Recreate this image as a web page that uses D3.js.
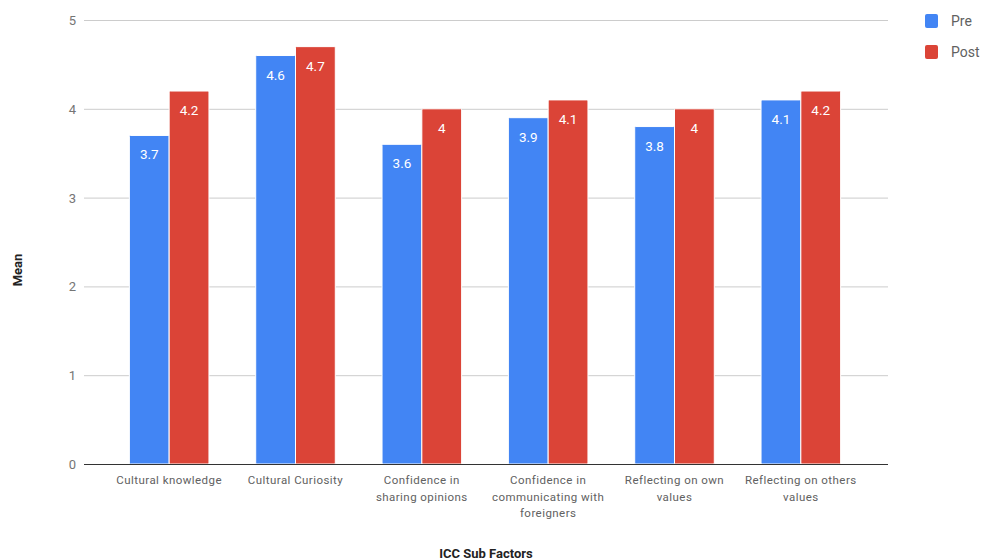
<!DOCTYPE html>
<html>
<head>
<meta charset="utf-8">
<script src="https://cdnjs.cloudflare.com/ajax/libs/d3/7.8.5/d3.min.js"></script>
<style>
  body { margin: 0; background: #fff; }
  svg { font-family: Roboto, Arial, sans-serif; }
</style>
</head>
<body>
<svg width="983" height="559"></svg>
<script>
var categories = [
  ["Cultural knowledge"],
  ["Cultural Curiosity"],
  ["Confidence in", "sharing opinions"],
  ["Confidence in", "communicating with", "foreigners"],
  ["Reflecting on own", "values"],
  ["Reflecting on others", "values"]
];
var series = ["Pre", "Post"];
var preValues = [3.7, 4.6, 3.6, 3.9, 3.8, 4.1];
var postValues = [4.2, 4.7, 4.0, 4.1, 4.0, 4.2];
var yTicks = [0, 1, 2, 3, 4, 5];
var colors = ["#4285f4", "#db4437"];

var svg = d3.select("svg");
// note: "top" is taken by window.top, so use other names
var plotLeft = 84, plotRight = 888, plotTop = 20, plotBottom = 464;

var x = d3.scaleBand()
    .domain(d3.range(categories.length))
    .range([106, 864])
    .paddingInner(0.37)
    .paddingOuter(0.185);
var xs = d3.scaleBand().domain([0, 1]).range([0, x.bandwidth()]);
var y = d3.scaleLinear().domain([0, 5]).range([plotBottom, plotTop]);

// gridlines
svg.append("g").selectAll("line")
    .data(yTicks.filter(function(d) { return d > 0; }))
    .enter().append("line")
    .attr("x1", plotLeft).attr("x2", plotRight)
    .attr("y1", function(d) { return y(d) + 0.5; })
    .attr("y2", function(d) { return y(d) + 0.5; })
    .attr("stroke", "#ccc").attr("stroke-width", 1);

svg.append("g").selectAll("text")
    .data(yTicks)
    .enter().append("text")
    .attr("x", 76).attr("y", function(d) { return y(d) + 5; })
    .attr("text-anchor", "end")
    .attr("fill", "#757575").attr("font-size", 13)
    .text(function(d) { return d; });

var rows = categories.map(function(c, i) {
  return [preValues[i], postValues[i]];
});

var groups = svg.append("g").selectAll("g")
    .data(rows)
    .enter().append("g")
    .attr("transform", function(d, i) { return "translate(" + x(i) + ",0)"; });

groups.selectAll("rect")
    .data(function(d) { return d; })
    .enter().append("rect")
    .attr("x", function(d, j) { return xs(j); })
    .attr("y", function(d) { return y(d); })
    .attr("width", xs.bandwidth())
    .attr("height", function(d) { return plotBottom - y(d); })
    .attr("rx", 1)
    .attr("fill", function(d, j) { return colors[j]; })
    .attr("stroke", "#fff").attr("stroke-width", 1);

groups.selectAll("text")
    .data(function(d) { return d; })
    .enter().append("text")
    .attr("x", function(d, j) { return xs(j) + xs.bandwidth() / 2; })
    .attr("y", function(d) { return y(d) + 24; })
    .attr("text-anchor", "middle")
    .attr("fill", "#fff").attr("font-size", 13.5)
    .text(function(d) { return d; });

// baseline
svg.append("line")
    .attr("x1", plotLeft).attr("x2", plotRight)
    .attr("y1", plotBottom + 0.5).attr("y2", plotBottom + 0.5)
    .attr("stroke", "#333").attr("stroke-width", 1);

// category labels
var labels = svg.append("g").selectAll("text")
    .data(categories)
    .enter().append("text")
    .attr("x", function(d, i) { return x(i) + x.bandwidth() / 2; })
    .attr("y", 484)
    .attr("text-anchor", "middle")
    .attr("fill", "#616161").attr("font-size", 11.5)
    .attr("letter-spacing", 0.45);
labels.selectAll("tspan")
    .data(function(d) { return d; })
    .enter().append("tspan")
    .attr("x", function() { return d3.select(this.parentNode).attr("x"); })
    .attr("dy", function(d, k) { return k === 0 ? 0 : 16.5; })
    .text(function(d) { return d; });

// axis titles
svg.append("text")
    .attr("transform", "translate(22,270) rotate(-90)")
    .attr("text-anchor", "middle")
    .attr("font-size", 13).attr("font-weight", "bold").attr("fill", "#222")
    .text("Mean");

svg.append("text")
    .attr("x", 486).attr("y", 558)
    .attr("text-anchor", "middle")
    .attr("font-size", 13).attr("font-weight", "bold").attr("fill", "#222")
    .text("ICC Sub Factors");

// legend
var legend = svg.append("g").selectAll("g")
    .data(series)
    .enter().append("g")
    .attr("transform", function(d, i) { return "translate(925," + (14 + i * 31) + ")"; });
legend.append("rect")
    .attr("width", 13).attr("height", 14).attr("rx", 2)
    .attr("fill", function(d, i) { return colors[i]; });
legend.append("text")
    .attr("x", 26).attr("y", 12)
    .attr("font-size", 14).attr("fill", "#616161")
    .text(function(d) { return d; });
</script>
</body>
</html>
